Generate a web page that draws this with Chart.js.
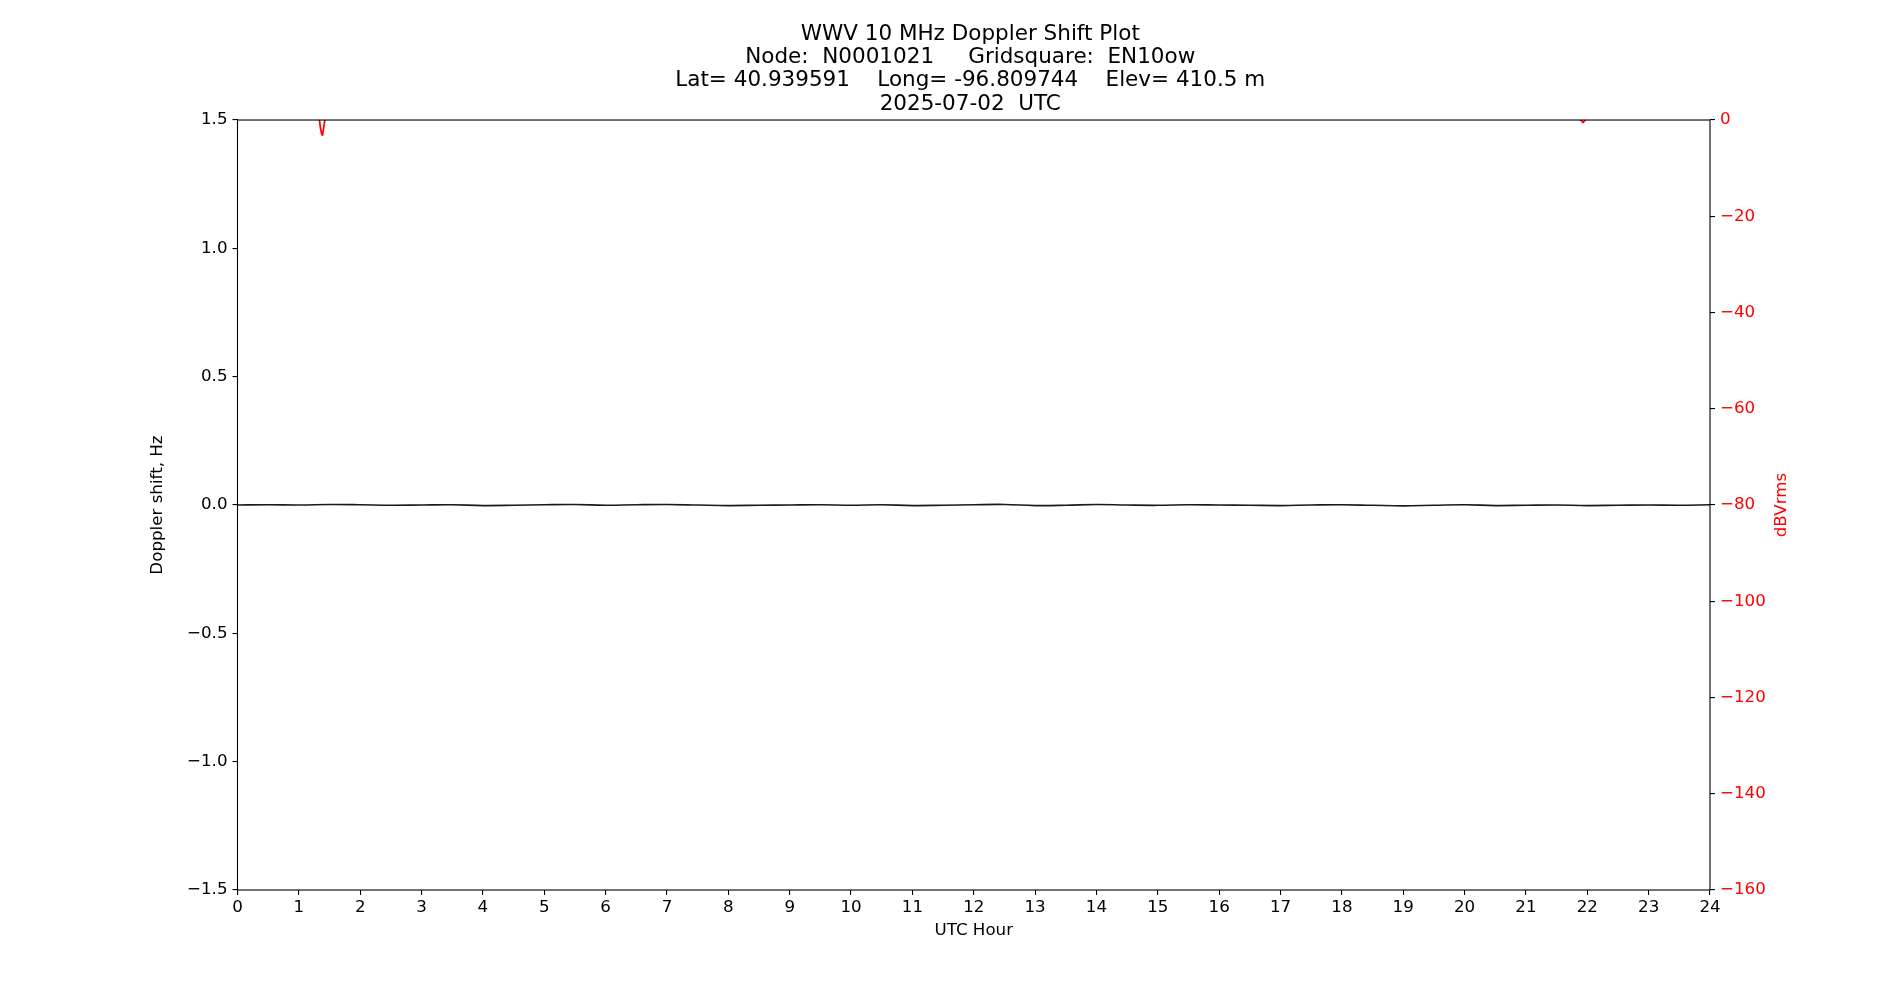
<!DOCTYPE html>
<html>
<head>
<meta charset="utf-8">
<title>WWV 10 MHz Doppler Shift Plot</title>
<script src="https://cdn.jsdelivr.net/npm/chart.js@4.4.1/dist/chart.umd.min.js"></script>
<style>
  html, body { margin: 0; padding: 0; background: #fff; }
  #wrap { width: 1900px; height: 1000px; position: relative; }
</style>
</head>
<body>
<div id="wrap"><canvas id="plot"></canvas></div>
<script>
// Title lines
const titleLines = [
    'WWV 10 MHz Doppler Shift Plot',
    'Node:  N0001021     Gridsquare:  EN10ow',
    'Lat= 40.939591    Long= -96.809744    Elev= 410.5 m',
    '2025-07-02  UTC'
];

// Doppler shift (Hz), sampled every half hour, 0..24 UTC
const dopplerHours = [
    0, 0.5, 1, 1.5, 2, 2.5, 3, 3.5, 4, 4.5, 5, 5.5, 6, 6.5, 7, 7.5, 8, 8.5, 9, 9.5,
    10, 10.5, 11, 11.5, 12, 12.5, 13, 13.5, 14, 14.5, 15, 15.5, 16, 16.5, 17, 17.5,
    18, 18.5, 19, 19.5, 20, 20.5, 21, 21.5, 22, 22.5, 23, 23.5, 24
];
const dopplerHz = [
    0.000, 0.001, 0.000, 0.002, 0.001, -0.001, 0.000, 0.001, -0.002, -0.001, 0.001, 0.002, -0.001, 0.001, 0.002, 0.000, -0.002, -0.001, 0.000, 0.001,
    -0.001, 0.001, -0.002, -0.001, 0.001, 0.002, -0.002, -0.001, 0.002, 0.000, -0.001, 0.001, 0.000, -0.001, -0.002, 0.000,
    0.001, -0.001, -0.003, -0.001, 0.001, -0.002, -0.001, 0.000, -0.002, -0.001, 0.000, -0.001, 0.001
];

// Signal level (dBVrms); mostly above 0 dB, so only the dips show
const levelHours = [0, 0.8, 1.33, 1.35, 1.37, 1.38, 1.39, 1.41, 1.43, 2.0, 12.0, 21.85, 21.90, 21.93, 21.96, 22.0, 24];
const levelDb    = [3.5, 2.8, 0.6, -1.5, -2.8, -3.1, -2.7, -1.2, 0.6, 2.5, 3.0, 0.6, -0.1, -0.5, -0.1, 0.6, 2.8];

// Axis ticks
const leftTicks = [-1.5, -1.0, -0.5, 0.0, 0.5, 1.0, 1.5];
const rightTicks = [-160, -140, -120, -100, -80, -60, -40, -20, 0];
const hourTicks = [0, 1, 2, 3, 4, 5, 6, 7, 8, 9, 10, 11, 12, 13, 14, 15, 16, 17, 18, 19, 20, 21, 22, 23, 24];

const FONT = 'DejaVu Sans, Verdana, sans-serif';
const minus = s => String(s).replace('-', '\u2212');

const dopplerPoints = dopplerHours.map((h, i) => ({ x: h, y: dopplerHz[i] }));
const levelPoints = levelHours.map((h, i) => ({ x: h, y: levelDb[i] }));

// Full box around the plot area plus the right-hand label (matplotlib reads it bottom-to-top)
const framePlugin = {
    id: 'frame',
    afterDatasetsDraw(chart) {
        const { ctx, chartArea: a } = chart;
        ctx.save();
        ctx.strokeStyle = '#000';
        ctx.lineWidth = 1.1;
        ctx.strokeRect(a.left, a.top, a.right - a.left, a.bottom - a.top);
        ctx.restore();
    },
    afterDraw(chart) {
        const { ctx, chartArea: a } = chart;
        ctx.save();
        ctx.translate(1782, (a.top + a.bottom) / 2);
        ctx.rotate(-Math.PI / 2);
        ctx.fillStyle = 'red';
        ctx.font = '16.7px ' + FONT;
        ctx.textAlign = 'center';
        ctx.textBaseline = 'middle';
        ctx.fillText('dBVrms', 0, 0);
        ctx.restore();
    }
};

const tickFont = { family: FONT, size: 16.7, lineHeight: 1.2 };

new Chart(document.getElementById('plot'), {
    type: 'line',
    data: {
        datasets: [{
            label: 'Doppler shift',
            data: dopplerPoints,
            yAxisID: 'y',
            borderColor: '#1a1a1a',
            borderWidth: 1.7,
            pointRadius: 0,
            tension: 0.4,
            clip: 0
        }, {
            label: 'dBVrms',
            data: levelPoints,
            yAxisID: 'y1',
            borderColor: '#ff0000',
            borderWidth: 1.7,
            pointRadius: 0,
            tension: 0,
            clip: 0
        }]
    },
    options: {
        responsive: true,
        maintainAspectRatio: false,
        devicePixelRatio: 1,
        animation: false,
        layout: { padding: { left: 148, right: 107.5, top: 0, bottom: 59 } },
        plugins: {
            legend: { display: false },
            tooltip: { enabled: false },
            title: {
                display: true,
                text: titleLines,
                color: '#000',
                font: { family: FONT, size: 21.5, weight: 'normal', lineHeight: 1.084 },
                padding: { top: 22.6, bottom: 4.2 }
            }
        },
        scales: {
            x: {
                type: 'linear',
                position: 'bottom',
                min: 0,
                max: 24,
                afterBuildTicks: s => { s.ticks = hourTicks.map(v => ({ value: v })); },
                afterFit: s => { s.height = 51; },
                grid: { drawOnChartArea: false, drawTicks: true, tickLength: 5, color: '#000', lineWidth: 1.1 },
                border: { display: false },
                ticks: { color: '#000', font: tickFont, padding: 3, maxRotation: 0, autoSkip: false },
                title: { display: true, text: 'UTC Hour', color: '#000', font: tickFont, padding: 0 }
            },
            y: {
                type: 'linear',
                position: 'left',
                min: -1.5,
                max: 1.5,
                afterBuildTicks: s => { s.ticks = leftTicks.map(v => ({ value: v })); },
                afterFit: s => { s.width = 89.5; },
                grid: { drawOnChartArea: false, drawTicks: true, tickLength: 5, color: '#000', lineWidth: 1.1 },
                border: { display: false },
                ticks: { color: '#000', font: tickFont, padding: 5, callback: v => minus(v.toFixed(1)) },
                title: { display: true, text: 'Doppler shift, Hz', color: '#000', font: tickFont, padding: 0 }
            },
            y1: {
                type: 'linear',
                position: 'right',
                min: -160,
                max: 0,
                afterBuildTicks: s => { s.ticks = rightTicks.map(v => ({ value: v })); },
                afterFit: s => { s.width = 82.5; },
                grid: { drawOnChartArea: false, drawTicks: true, tickLength: 5, color: '#000', lineWidth: 1.1 },
                border: { display: false },
                ticks: { color: 'red', font: tickFont, padding: 5, callback: v => minus(v) },
                title: { display: false }
            }
        }
    },
    plugins: [framePlugin]
});
</script>
</body>
</html>
